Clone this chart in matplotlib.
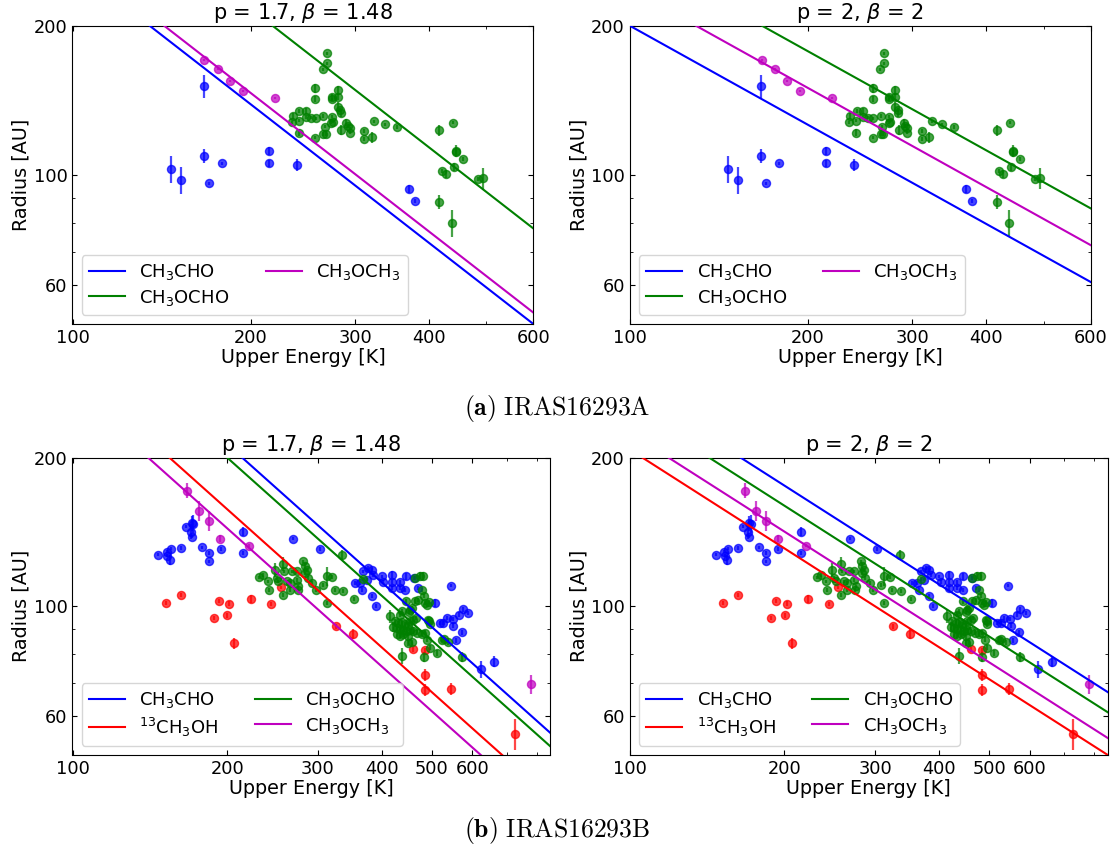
import numpy as np
import matplotlib
matplotlib.use("Agg")
import matplotlib.pyplot as plt
from matplotlib.ticker import FixedLocator, FixedFormatter, NullFormatter

plt.rcParams['font.family'] = ['DejaVu Sans']

# ---------------- IRAS16293A data (Upper energy [K], Radius [AU], error) ----------------
a_cho_E = [146.6, 152.6, 166.5, 166.5, 169.7, 178.5, 214.7, 214.7, 239.3, 369.6, 378.4]
a_cho_R = [102.8, 97.7, 151.3, 109.4, 96.2, 105.6, 111.6, 105.6, 104.9, 93.6, 88.6]
a_cho_err = [6.4, 6.0, 8.2, 3.7, 0.8, 0.8, 2.1, 1.7, 2.9, 1.7, 0.8]

a_dme_E = [167.0, 176.1, 184.4, 194.0, 219.8]
a_dme_R = [170.9, 163.5, 154.6, 148.0, 143.0]
a_dme_err = [0.8, 0.8, 0.8, 0.8, 0.8]

a_mf_E = [269.2, 269.2, 264.4, 257.2, 257.2, 281.0, 281.0, 274.0, 274.0, 281.0,
          283.4, 284.2, 235.6, 241.6, 235.0, 240.9, 247.7, 247.7, 252.6, 257.9,
          265.2, 267.0, 265.2, 268.1, 257.2, 240.9, 274.5, 275.2, 273.7, 290.2,
          292.2, 294.3, 294.3, 284.6, 311.1, 311.1, 319.9, 323.4, 337.2, 352.5,
          416.5, 439.0, 443.4, 444.6, 455.8, 420.6, 426.5, 440.3, 416.5, 437.8,
          483.8, 493.3]
a_mf_R = [176.1, 168.1, 163.5, 149.6, 142.2, 148.4, 144.0, 144.0, 142.4, 137.4,
          135.3, 133.2, 131.6, 134.7, 127.8, 128.8, 134.7, 130.8, 130.6, 130.2,
          131.6, 125.3, 120.9, 120.9, 119.0, 121.8, 131.2, 128.2, 127.6, 127.6,
          125.7, 121.8, 124.3, 123.3, 122.8, 118.1, 119.2, 128.4, 126.6, 124.9,
          123.1, 127.6, 111.8, 111.3, 107.9, 102.0, 100.5, 103.9, 88.3, 79.9,
          98.2, 98.5]
a_mf_err = [1, 1, 1, 3, 2, 3, 2, 2, 1, 3,
            1, 2, 2, 1, 1, 1, 2, 1, 1, 1,
            1, 1, 1, 1, 1, 2, 1, 1, 1, 2,
            1, 1, 1, 3, 1, 1, 3, 1, 1, 1,
            3, 1, 3, 1, 1, 1, 2, 2, 3, 5,
            1, 5]

# ---------------- IRAS16293B data ----------------
b_cho_E = [146.9, 152.5, 152.9, 154.8, 155.5, 162.4, 166.3, 170.6, 171.8, 170.1,
           170.6, 178.4, 184.4, 184.4, 194.2, 214.9, 214.9, 268.5, 302.7,
           368.1, 376.4, 382.2, 384.9, 373.7, 354.6, 362.6, 365.4, 382.2, 389.6,
           399.7, 402.5, 417.9, 417.9, 417.9, 433.7, 433.7, 445.7, 444.5, 462.5,
           470.9, 507.5, 545.2, 519.0, 526.7, 534.9, 549.4, 550.8, 565.8, 574.4,
           589.0, 571.9, 557.6, 622.9, 661.2]
b_cho_R = [127.2, 129.1, 126.6, 124.3, 130.8, 131.2, 145.1, 147.4, 147.0, 141.7,
           138.5, 131.6, 128.2, 123.3, 130.6, 141.7, 128.2, 137.2, 130.6,
           117.7, 119.6, 118.6, 115.9, 113.3, 111.5, 111.5, 108.1, 104.8, 100.3,
           115.0, 112.2, 115.9, 112.2, 108.9, 112.2, 108.9, 115.0, 107.7, 114.2,
           108.9, 101.6, 110.2, 92.6, 92.6, 94.7, 94.3, 91.4, 96.2, 98.6,
           97.0, 88.6, 85.4, 74.5, 77.2]
b_cho_err = [1, 1, 1, 3, 1, 1, 1, 5, 6, 5,
             1, 1, 1, 1, 1, 3, 1, 1, 1,
             1, 1, 1, 1, 1, 1, 1, 1, 1, 1,
             1, 1, 2, 1, 1, 1, 1, 2, 1, 1,
             1, 2, 1, 1, 1, 1, 1, 1, 1, 1,
             1, 1, 1, 3, 2]

b_meoh_E = [151.8, 162.4, 192.5, 201.9, 188.3, 200.1, 206.5, 222.5, 243.9, 254.2,
            325.3, 351.3, 460.4, 485.4, 485.4, 485.4, 545.6, 727.8]
b_meoh_R = [101.4, 105.3, 102.7, 101.3, 94.8, 95.9, 84.1, 103.5, 101.1, 109.2,
            91.1, 87.9, 81.8, 81.5, 72.6, 67.7, 68.1, 55.2]
b_meoh_err = [1, 1, 1, 1, 1, 1, 2, 2, 1, 1,
              1, 2, 1, 1, 2, 2, 2, 4]

b_mf_E = [231.0, 235.1, 240.5, 241.5, 247.7, 249.6, 251.4, 257.1, 258.3, 257.1,
          261.1, 265.0, 267.0, 265.0, 273.1, 273.1, 275.0, 274.3, 281.3, 283.5,
          283.5, 285.6, 286.9, 292.8, 297.3, 307.6, 312.3, 312.3, 320.3, 324.2,
          336.5, 335.0, 353.0,
          368.1, 464.0, 474.5, 481.6, 445.7, 453.7, 457.1, 437.1, 414.8, 424.2,
          430.5, 437.1, 443.6, 450.2, 453.7, 460.4, 466.0, 421.0, 427.5, 433.7,
          440.2, 447.0, 453.7, 460.4, 468.8, 427.5, 433.7, 440.2, 450.2, 450.2,
          457.1, 464.0, 470.9, 485.2, 488.9, 492.5, 496.3, 485.2, 490.2, 496.3,
          511.3, 437.1, 483.7, 478.1, 483.1, 494.6, 478.1, 523.0, 528.4, 538.7,
          573.4, 433.9, 451.7, 493.3]
b_mf_R = [114.4, 115.9, 112.3, 107.7, 118.6, 114.1, 112.3, 122.0, 117.7, 105.6,
          112.3, 111.5, 117.7, 108.1, 117.7, 113.2, 109.7, 108.1, 123.3, 120.5,
          116.8, 118.6, 114.1, 111.5, 108.1, 110.6, 115.0, 101.6, 114.6, 107.7,
          107.2, 127.2, 103.5,
          113.6, 114.1, 115.4, 115.3, 102.3, 98.5, 99.3, 97.7, 95.4, 93.3,
          92.6, 92.8, 91.9, 91.4, 93.3, 94.0, 94.7, 90.8, 90.4, 90.0,
          89.7, 89.0, 89.4, 89.0, 88.4, 87.7, 87.0, 87.7, 87.0, 84.3,
          84.5, 102.3, 103.2, 101.6, 100.8, 94.0, 91.9, 88.4, 85.6, 82.4,
          80.5, 79.3, 79.0, 108.1, 104.8, 93.3, 87.7, 85.6, 85.8, 84.5,
          79.0, 96.2, 97.4, 101.9]
b_mf_err = [1, 1, 1, 1, 4, 1, 1, 4, 1, 1,
            1, 1, 1, 1, 1, 1, 1, 1, 1, 2,
            1, 1, 1, 1, 1, 1, 5, 1, 1, 1,
            1, 3, 1,
            1, 1, 2, 2, 1, 1, 1, 1, 3, 1,
            1, 1, 1, 1, 1, 1, 1, 2, 1, 1,
            1, 1, 1, 1, 1, 1, 1, 1, 1, 1,
            1, 1, 1, 1, 1, 1, 1, 1, 1, 1,
            1, 3, 2, 1, 1, 1, 1, 1, 1, 1,
            2, 1, 1, 1]

b_dme_E = [167.3, 176.2, 184.4, 194.0, 220.2, 782.0]
b_dme_R = [171.5, 156.2, 149.2, 137.2, 132.8, 69.5]
b_dme_err = [6, 7, 7, 2, 1, 3]

# ---------------- Model lines: radius at E=100 K and E=1000 K ----------------
line_E = [100, 1000]
# top row (IRAS16293A): CH3CHO, CH3OCHO, CH3OCH3
lineA_p17 = {'cho': [264.7, 31.1], 'mf': [412.8, 48.5], 'dme': [278.9, 32.8]}
lineA_p2 = {'cho': [200.3, 43.3], 'mf': [281.9, 61.0], 'dme': [237.7, 51.4]}
# bottom row (IRAS16293B): CH3CHO, 13CH3OH, CH3OCHO, CH3OCH3
lineB_p17 = {'cho': [405.6, 47.7], 'meoh': [299.7, 35.2], 'mf': [381.1, 44.8], 'dme': [274.2, 32.2]}
lineB_p2 = {'cho': [278.4, 60.2], 'meoh': [207.8, 44.9], 'mf': [253.5, 54.8], 'dme': [224.6, 48.6]}

labels = {'cho': r'CH$_3$CHO', 'mf': r'CH$_3$OCHO',
          'meoh': r'$^{13}$CH$_3$OH', 'dme': r'CH$_3$OCH$_3$'}
colors = {'cho': 'b', 'mf': 'g', 'meoh': 'r', 'dme': 'm'}
titles = [r'p = 1.7, $\beta$ = 1.48', r'p = 2, $\beta$ = 2']

dataA = {'cho': (a_cho_E, a_cho_R, a_cho_err),
         'mf': (a_mf_E, a_mf_R, a_mf_err),
         'dme': (a_dme_E, a_dme_R, a_dme_err)}
dataB = {'cho': (b_cho_E, b_cho_R, b_cho_err),
         'meoh': (b_meoh_E, b_meoh_R, b_meoh_err),
         'mf': (b_mf_E, b_mf_R, b_mf_err),
         'dme': (b_dme_E, b_dme_R, b_dme_err)}

W, H = 1115, 857
fig = plt.figure(figsize=(W / 100, H / 100), dpi=100)


def add_ax(x0, x1, y0, y1):
    return fig.add_axes([x0 / W, 1 - y1 / H, (x1 - x0) / W, (y1 - y0) / H])


TICK_FS = 12.8
LABEL_FS = 13.8
LEG_FS = 13
TITLE_FS = 15


def panel(ax, data, lines, title, xmax, xmajor, xminor, leg_order):
    for key in ['cho', 'meoh', 'mf', 'dme']:
        if key in data:
            E, R, err = data[key]
            ax.errorbar(E, R, yerr=err, fmt='o', color=colors[key], ms=5.8,
                        alpha=0.72, elinewidth=1.6, capsize=0, zorder=2)
    handles = {}
    for key in leg_order:
        h, = ax.plot(line_E, lines[key], color=colors[key], lw=1.5, zorder=3)
        handles[key] = h
    ax.set_xscale('log')
    ax.set_yscale('log')
    ax.set_xlim(100, xmax)
    ax.set_ylim(50, 200)
    ax.xaxis.set_major_locator(FixedLocator(xmajor))
    ax.xaxis.set_major_formatter(FixedFormatter([str(v) for v in xmajor]))
    ax.xaxis.set_minor_locator(FixedLocator(xminor))
    ax.xaxis.set_minor_formatter(NullFormatter())
    ax.yaxis.set_major_locator(FixedLocator([60, 100, 200]))
    ax.yaxis.set_major_formatter(FixedFormatter(['60', '100', '200']))
    ax.yaxis.set_minor_locator(FixedLocator([50, 70, 80, 90]))
    ax.yaxis.set_minor_formatter(NullFormatter())
    ax.tick_params(which='both', direction='in', top=True, right=True,
                   labelsize=TICK_FS)
    ax.set_xlabel('Upper Energy [K]', fontsize=LABEL_FS, labelpad=1)
    ax.set_ylabel('Radius [AU]', fontsize=LABEL_FS, labelpad=2)
    ax.set_title(title, fontsize=TITLE_FS, pad=5)
    hs = [handles[k] for k in leg_order]
    ax.legend(hs, [labels[k] for k in leg_order], ncol=2, loc='lower left',
              fontsize=LEG_FS, handlelength=2.0, columnspacing=2.0,
              labelspacing=0.3)


# top row
ax1 = add_ax(72.5, 533.3, 26, 324)
panel(ax1, dataA, lineA_p17, titles[0], 600,
      [100, 200, 300, 400, 600], [500], ['cho', 'mf', 'dme'])
ax2 = add_ax(629.7, 1090.5, 26, 324)
panel(ax2, dataA, lineA_p2, titles[1], 600,
      [100, 200, 300, 400, 600], [500], ['cho', 'mf', 'dme'])

# bottom row
ax3 = add_ax(72.5, 550.1, 457.7, 755)
panel(ax3, dataB, lineB_p17, titles[0], 850,
      [100, 200, 300, 400, 500, 600], [700, 800], ['cho', 'meoh', 'mf', 'dme'])
ax4 = add_ax(629.7, 1107.6, 457.7, 755)
panel(ax4, dataB, lineB_p2, titles[1], 850,
      [100, 200, 300, 400, 500, 600], [700, 800], ['cho', 'meoh', 'mf', 'dme'])

fig.text(0.5, 1 - 408 / H, r'$\mathbf{(a)}\ \mathrm{IRAS16293A}$', ha='center',
         va='center', fontsize=18.5, math_fontfamily='cm')
fig.text(0.5, 1 - 830 / H, r'$\mathbf{(b)}\ \mathrm{IRAS16293B}$', ha='center',
         va='center', fontsize=18.5, math_fontfamily='cm')

fig.savefig('out.png', dpi=100)
